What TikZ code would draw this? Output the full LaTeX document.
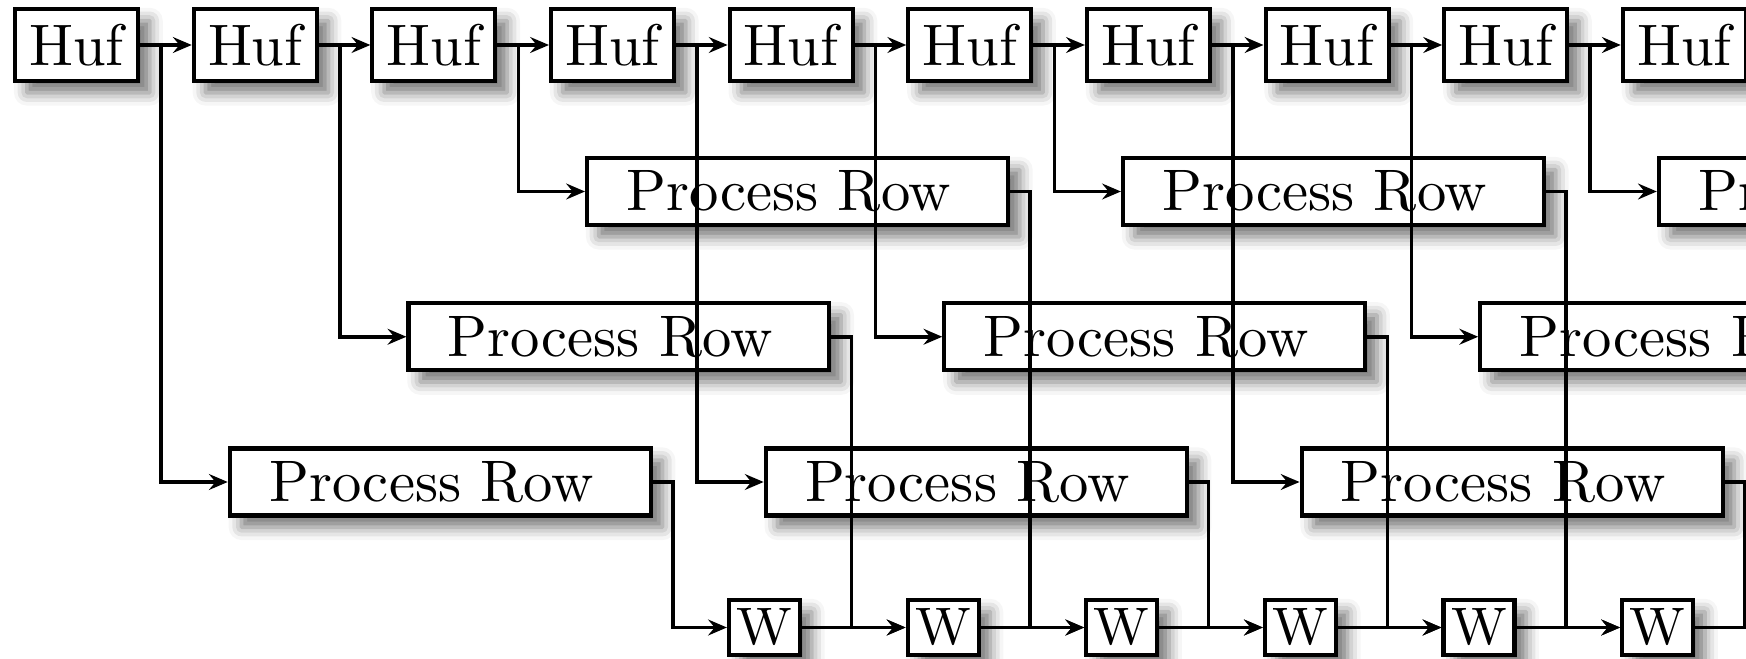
\documentclass[tikz,border=0pt]{standalone}
\usetikzlibrary{arrows.meta,shadows.blur}
\tikzset{
  box/.style={draw, line width=0.7pt, fill=white, inner sep=0pt,
    blur shadow={shadow xshift=2pt, shadow yshift=-2pt, shadow blur radius=2.2pt, shadow opacity=55}},
  huf/.style={box, minimum width=20.99pt, minimum height=12.29pt},
  prow/.style={box, minimum width=71.84pt, minimum height=11.43pt},
  wbox/.style={box, minimum width=12.12pt, minimum height=9.39pt, font=\fontsize{9pt}{10pt}\selectfont},
  arr/.style={line width=0.6pt, -{Stealth[length=3.2pt,width=2.7pt,inset=1.1pt]}}
}
\begin{document}
\begin{tikzpicture}[x=0.17065pt,y=-0.17065pt]
\useasboundingbox (0,0) rectangle (1746,659);
\clip (0,0) rectangle (1746,659);
% Huf row
\foreach \i in {0,...,9}
  \node[huf] (h\i) at ({76.65+178.63*\i},45) {Huf};
% Process Row nodes (three staggered rows)
\foreach \i in {0,...,8} {
  \pgfmathtruncatemacro\r{mod(\i,3)}
  \node[prow] (p\i) at ({440.3+178.63*\i},{482-145.25*\r}) {Process Row\kern3pt};
}
% W row
\foreach \i in {0,...,5}
  \node[wbox] (w\i) at ({764.5+178.63*\i},627.5) {W};
\coordinate (w6) at ({727+6*178.63},627.5);
% connectors
\foreach \i [count=\j] in {0,...,8}
  \draw[arr] (h\i.east) -- (h\j.west);
\foreach \i in {0,...,8}
  \draw[arr] (h\i.east) -- ++(21,0) |- (p\i.west);
\foreach \i in {0,...,5}
  \draw[arr] (p\i.east) -- ++(20,0) |- (w\i.west);
\draw[arr] (p6.east) -- ++(20,0) |- (w6);
\foreach \i [count=\j] in {0,...,4}
  \draw[arr] (w\i.east) -- (w\j.west);
\draw[arr] (w5.east) -- (w6);
\end{tikzpicture}
\end{document}
